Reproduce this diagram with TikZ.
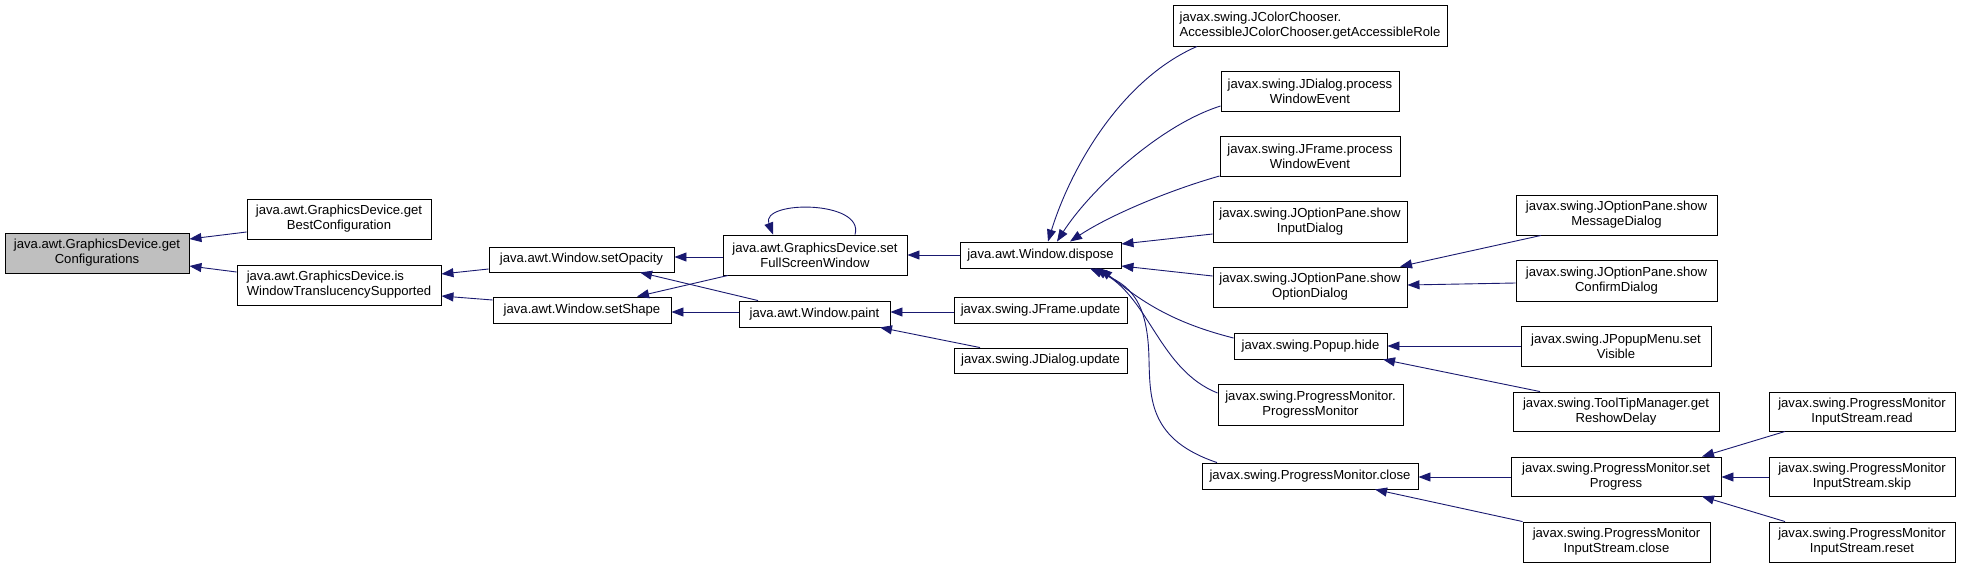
\documentclass[tikz,border=0pt]{standalone}
\usepackage{fontspec}
\setmainfont{Liberation Sans}
\usetikzlibrary{arrows.meta}
\definecolor{edgecol}{HTML}{191970}
\definecolor{rootfill}{HTML}{BFBFBF}
\tikzset{
  nbox/.style={draw=black, line width=0.9pt, fill=white, inner sep=0pt, align=center,
    font=\fontsize{13.1pt}{15pt}\selectfont},
  edge/.style={draw=edgecol, line width=0.9pt, -{Triangle[length=12pt,width=9pt]}},
}
\newcommand\dnode[7][]{\node[nbox,#1, minimum width={#5-#3}, minimum height={#6-#4}] (#2) at ({(#3+#5)/2},{(#4+#6)/2}) {#7};}
\begin{document}
\begin{tikzpicture}[x=1pt,y=-1pt]
\useasboundingbox[fill=white] (0,0) rectangle (1961,568);
% nodes
\dnode[fill=rootfill]{gc}{5}{233}{189}{273}{java.awt.GraphicsDevice.get\\Configurations}
\dnode{gbc}{247}{199}{431}{239}{java.awt.GraphicsDevice.get\\BestConfiguration}
\dnode[align=left]{iwts}{237}{265}{441}{305}{java.awt.GraphicsDevice.is\\WindowTranslucencySupported}
\dnode{sop}{489}{247}{674}{272}{java.awt.Window.setOpacity}
\dnode{ssh}{493}{297}{671}{323}{java.awt.Window.setShape}
\dnode{fsw}{723}{235}{907}{275}{java.awt.GraphicsDevice.set\\FullScreenWindow}
\dnode{paint}{739}{301}{890}{327}{java.awt.Window.paint}
\dnode{disp}{960}{242}{1121}{268}{java.awt.Window.dispose}
\dnode{jfu}{954}{297}{1127}{323}{javax.swing.JFrame.update}
\dnode{jdu}{954}{348}{1127}{373}{javax.swing.JDialog.update}
\dnode[align=left]{acc}{1173}{5}{1447}{46}{javax.swing.JColorChooser.\\AccessibleJColorChooser.getAccessibleRole}
\dnode{jdp}{1221}{71}{1399}{111}{javax.swing.JDialog.process\\WindowEvent}
\dnode{jfp}{1220}{136}{1400}{176}{javax.swing.JFrame.process\\WindowEvent}
\dnode{sid}{1213}{201}{1407}{242}{javax.swing.JOptionPane.show\\InputDialog}
\dnode{sod}{1213}{267}{1407}{307}{javax.swing.JOptionPane.show\\OptionDialog}
\dnode{phide}{1234}{333}{1387}{359}{javax.swing.Popup.hide}
\dnode{pmpm}{1218}{384}{1403}{425}{javax.swing.ProgressMonitor.\\ProgressMonitor}
\dnode{pmc}{1202}{463}{1418}{489}{javax.swing.ProgressMonitor.close}
\dnode{smd}{1516}{195}{1717}{235}{javax.swing.JOptionPane.show\\MessageDialog}
\dnode{scd}{1516}{260}{1717}{301}{javax.swing.JOptionPane.show\\ConfirmDialog}
\dnode{jpv}{1521}{326}{1711}{366}{javax.swing.JPopupMenu.set\\Visible}
\dnode{ttm}{1513}{392}{1719}{431}{javax.swing.ToolTipManager.get\\ReshowDelay}
\dnode{sprog}{1511}{457}{1721}{496}{javax.swing.ProgressMonitor.set\\Progress}
\dnode{pmisc}{1523}{522}{1710}{562}{javax.swing.ProgressMonitor\\InputStream.close}
\dnode{pmisr}{1769}{392}{1955}{431}{javax.swing.ProgressMonitor\\InputStream.read}
\dnode{pmiss}{1769}{457}{1955}{496}{javax.swing.ProgressMonitor\\InputStream.skip}
\dnode{pmisrs}{1769}{522}{1955}{562}{javax.swing.ProgressMonitor\\InputStream.reset}
% edges
\draw[edge] (gbc.west |- 0,232) -- (gc.east |- 0,239);
\draw[edge] (iwts.west |- 0,272) -- (gc.east |- 0,266);
\draw[edge] (sop.west |- 0,269) -- (iwts.east |- 0,274);
\draw[edge] (ssh.west |- 0,300) -- (iwts.east |- 0,296);
\draw[edge] (fsw.west |- 0,257) -- (sop.east |- 0,257);
\draw[edge] (fsw.south -| 728,0) -- (ssh.north -| 637,0);
\draw[edge] (paint.north -| 758,0) -- (sop.south -| 640,0);
\draw[edge] (paint.west |- 0,312) -- (ssh.east |- 0,312);
\draw[edge] (fsw.north -| 855,0) .. controls (865,200) and (760,200) .. (fsw.north -| 773,0);
\draw[edge] (disp.west |- 0,255) -- (fsw.east |- 0,255);
\draw[edge] (jfu.west |- 0,312) -- (paint.east |- 0,312);
\draw[edge] (jdu.north -| 980,0) -- (paint.south -| 880,0);
\draw[edge] (acc.south -| 1197,0) .. controls (1120,80) and (1070,170) .. (disp.north -| 1048,0);
\draw[edge] (jdp.west |- 0,106) .. controls (1160,125) and (1090,190) .. (disp.north -| 1057,0);
\draw[edge] (jfp.west |- 0,176) .. controls (1170,190) and (1110,215) .. (disp.north -| 1070,0);
\draw[edge] (sid.west |- 0,234) -- (disp.east |- 0,244);
\draw[edge] (sod.west |- 0,276) -- (disp.east |- 0,266);
\draw[edge] (phide.west |- 0,338) .. controls (1170,322) and (1140,300) .. (disp.south -| 1100,0);
\draw[edge] (pmpm.west |- 0,393) .. controls (1160,370) and (1150,300) .. (disp.south -| 1095,0);
\draw[edge] (pmc.north -| 1217,0) .. controls (1150,440) and (1150,400) .. (1149,360) .. controls (1148,300) and (1130,285) .. (disp.south -| 1090,0);
\draw[edge] (smd.south -| 1541,0) -- (sod.north -| 1400,0);
\draw[edge] (scd.west |- 0,283) -- (sod.east |- 0,285);
\draw[edge] (jpv.west |- 0,346) -- (phide.east |- 0,346);
\draw[edge] (ttm.north -| 1540,0) -- (phide.south -| 1383,0);
\draw[edge] (sprog.west |- 0,477) -- (pmc.east |- 0,477);
\draw[edge] (pmisc.north west) -- (pmc.south -| 1375,0);
\draw[edge] (pmisr.south -| 1785,0) -- (sprog.north -| 1702,0);
\draw[edge] (pmiss.west |- 0,477) -- (sprog.east |- 0,477);
\draw[edge] (pmisrs.north -| 1785,0) -- (sprog.south -| 1702,0);
\end{tikzpicture}
\end{document}
